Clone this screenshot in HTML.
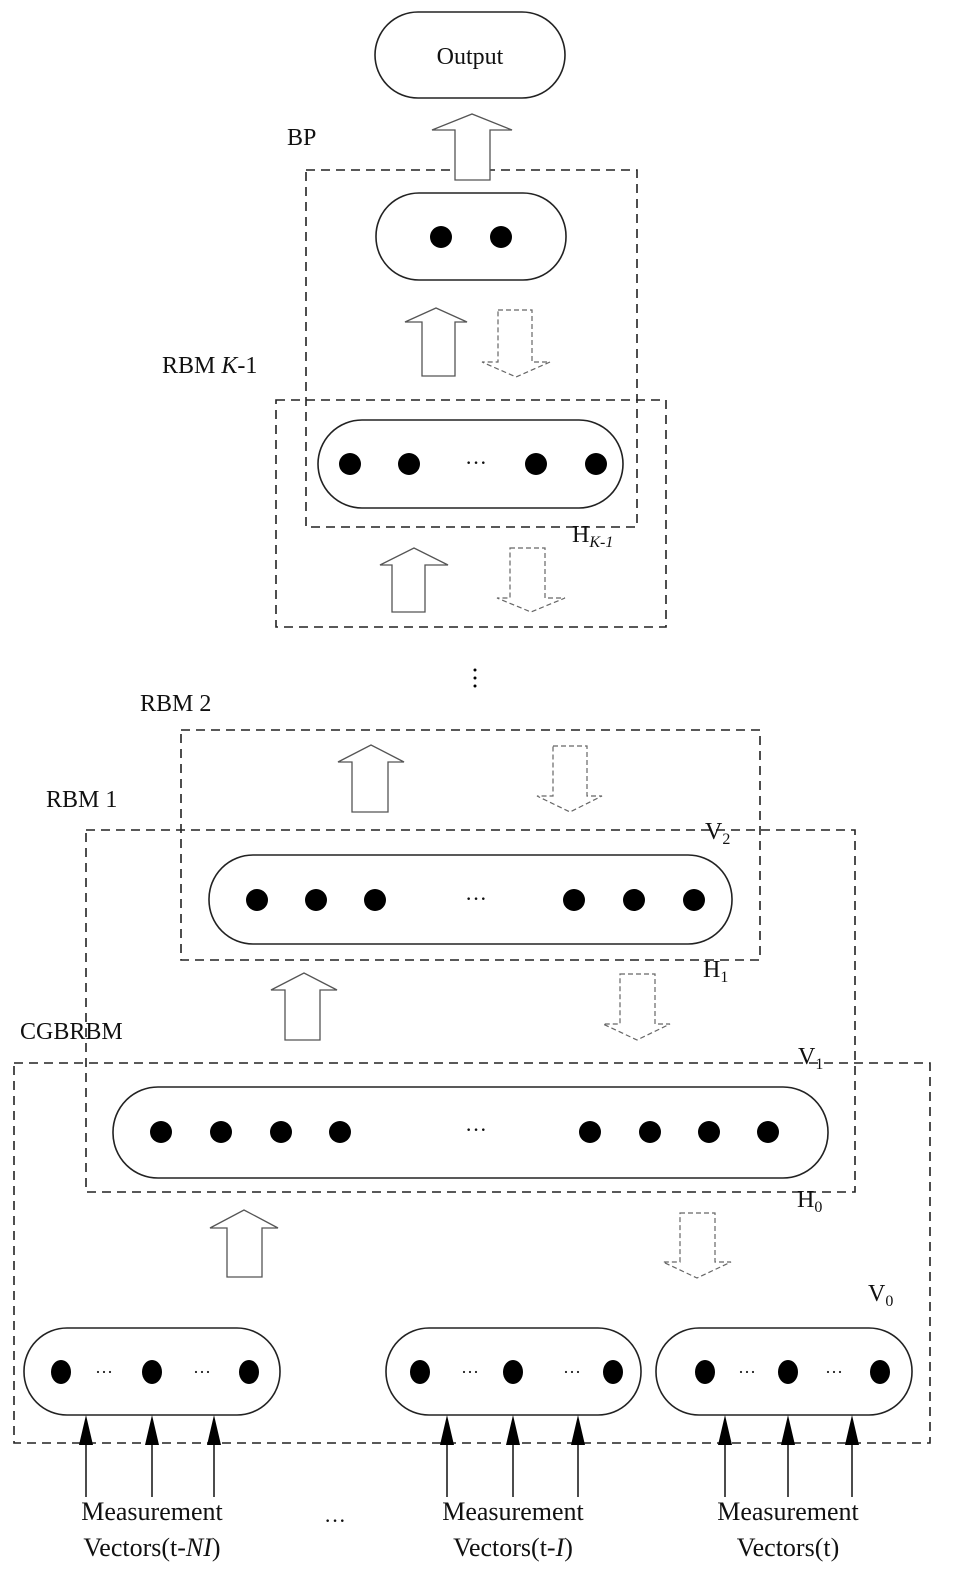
<!DOCTYPE html>
<html><head><meta charset="utf-8"><style>body{margin:0;background:#fff}svg{display:block}text{font-family:"Liberation Serif",serif;fill:#111}</style></head>
<body>
<svg width="957" height="1592" viewBox="0 0 957 1592" xmlns="http://www.w3.org/2000/svg">
<g fill="none" stroke="#222" stroke-width="1.6" stroke-dasharray="9,6">
<rect x="306" y="170" width="331" height="357"/>
<rect x="276" y="400" width="390" height="227"/>
<rect x="181" y="730" width="579" height="230"/>
<rect x="86" y="830" width="769" height="362"/>
<rect x="14" y="1063" width="916" height="380"/>
</g>
<g fill="#fff" stroke="#222" stroke-width="1.6">
<rect x="375" y="12" width="190" height="86" rx="43"/>
<rect x="376" y="193" width="190" height="87" rx="43"/>
<rect x="318" y="420" width="305" height="88" rx="44"/>
<rect x="209" y="855" width="523" height="89" rx="44"/>
<rect x="113" y="1087" width="715" height="91" rx="45"/>
<rect x="24" y="1328" width="256" height="87" rx="43"/>
<rect x="386" y="1328" width="255" height="87" rx="43"/>
<rect x="656" y="1328" width="256" height="87" rx="43"/>
</g>
<g fill="#fff" stroke="#555" stroke-width="1.3">
<polygon points="455,180 455,130 432,130 472,114 512,130 490,130 490,180"/>
<polygon points="422,376 422,322 405,322 436,308 467,322 455,322 455,376"/>
<polygon points="392,612 392,565 380,565 414,548 448,565 425,565 425,612"/>
<polygon points="352,812 352,762 338,762 371,745 404,762 388,762 388,812"/>
<polygon points="285,1040 285,990 271,990 304,973 337,990 320,990 320,1040"/>
<polygon points="227,1277 227,1228 210,1228 244,1210 278,1228 262,1228 262,1277"/>
</g>
<g fill="#fff" stroke="#666" stroke-width="1.2" stroke-dasharray="5,3">
<polygon points="498,310 532,310 532,362 550,362 516,377 482,362 498,362"/>
<polygon points="510,548 545,548 545,598 565,598 531,612 497,598 510,598"/>
<polygon points="553,746 587,746 587,796 602,796 570,812 537,796 553,796"/>
<polygon points="620,974 655,974 655,1024 670,1024 637,1040 603,1024 620,1024"/>
<polygon points="680,1213 715,1213 715,1262 731,1262 697,1278 663,1262 680,1262"/>
</g>
<g fill="#000">
<circle cx="441" cy="237" r="11"/><circle cx="501" cy="237" r="11"/>
<circle cx="350" cy="464" r="11"/><circle cx="409" cy="464" r="11"/><circle cx="536" cy="464" r="11"/><circle cx="596" cy="464" r="11"/>
<circle cx="257" cy="900" r="11"/><circle cx="316" cy="900" r="11"/><circle cx="375" cy="900" r="11"/><circle cx="574" cy="900" r="11"/><circle cx="634" cy="900" r="11"/><circle cx="694" cy="900" r="11"/>
<circle cx="161" cy="1132" r="11"/><circle cx="221" cy="1132" r="11"/><circle cx="281" cy="1132" r="11"/><circle cx="340" cy="1132" r="11"/><circle cx="590" cy="1132" r="11"/><circle cx="650" cy="1132" r="11"/><circle cx="709" cy="1132" r="11"/><circle cx="768" cy="1132" r="11"/>
<ellipse cx="61" cy="1372" rx="10" ry="12"/><ellipse cx="152" cy="1372" rx="10" ry="12"/><ellipse cx="249" cy="1372" rx="10" ry="12"/>
<ellipse cx="420" cy="1372" rx="10" ry="12"/><ellipse cx="513" cy="1372" rx="10" ry="12"/><ellipse cx="613" cy="1372" rx="10" ry="12"/>
<ellipse cx="705" cy="1372" rx="10" ry="12"/><ellipse cx="788" cy="1372" rx="10" ry="12"/><ellipse cx="880" cy="1372" rx="10" ry="12"/>
<circle cx="475" cy="670" r="1.5"/><circle cx="475" cy="678" r="1.5"/><circle cx="475" cy="686" r="1.5"/>
</g>
<g stroke="#111" stroke-width="1.5">
<line x1="86" y1="1497" x2="86" y2="1440"/><line x1="152" y1="1497" x2="152" y2="1440"/><line x1="214" y1="1497" x2="214" y2="1440"/>
<line x1="447" y1="1497" x2="447" y2="1440"/><line x1="513" y1="1497" x2="513" y2="1440"/><line x1="578" y1="1497" x2="578" y2="1440"/>
<line x1="725" y1="1497" x2="725" y2="1440"/><line x1="788" y1="1497" x2="788" y2="1440"/><line x1="852" y1="1497" x2="852" y2="1440"/>
</g>
<g fill="#000">
<polygon points="86,1415 79,1445 93,1445"/><polygon points="152,1415 145,1445 159,1445"/><polygon points="214,1415 207,1445 221,1445"/>
<polygon points="447,1415 440,1445 454,1445"/><polygon points="513,1415 506,1445 520,1445"/><polygon points="578,1415 571,1445 585,1445"/>
<polygon points="725,1415 718,1445 732,1445"/><polygon points="788,1415 781,1445 795,1445"/><polygon points="852,1415 845,1445 859,1445"/>
</g>
<g font-size="24">
<text x="470" y="64" text-anchor="middle">Output</text>
<text x="287" y="145">BP</text>
<text x="162" y="373">RBM <tspan font-style="italic">K</tspan>-1</text>
<text x="572" y="542">H<tspan font-size="16" font-style="italic" dy="5">K-1</tspan></text>
<text x="140" y="711">RBM 2</text>
<text x="46" y="807">RBM 1</text>
<text x="705" y="839">V<tspan font-size="16" dy="5">2</tspan></text>
<text x="703" y="977">H<tspan font-size="16" dy="5">1</tspan></text>
<text x="20" y="1039">CGBRBM</text>
<text x="798" y="1064">V<tspan font-size="16" dy="5">1</tspan></text>
<text x="797" y="1207">H<tspan font-size="16" dy="5">0</tspan></text>
<text x="868" y="1301">V<tspan font-size="16" dy="5">0</tspan></text>
</g>
<g font-size="22" text-anchor="middle">
<text x="476" y="470">···</text>
<text x="476" y="906">···</text>
<text x="476" y="1137">···</text>
<text x="104" y="1378" font-size="18">···</text>
<text x="202" y="1378" font-size="18">···</text>
<text x="470" y="1378" font-size="18">···</text>
<text x="572" y="1378" font-size="18">···</text>
<text x="747" y="1378" font-size="18">···</text>
<text x="834" y="1378" font-size="18">···</text>
<text x="335" y="1528">···</text>
</g>
<g font-size="26" text-anchor="middle">
<text x="152" y="1520">Measurement</text><text x="152" y="1556">Vectors(t-<tspan font-style="italic">NI</tspan>)</text>
<text x="513" y="1520">Measurement</text><text x="513" y="1556">Vectors(t-<tspan font-style="italic">I</tspan>)</text>
<text x="788" y="1520">Measurement</text><text x="788" y="1556">Vectors(t)</text>
</g>
</svg>
</body></html>
